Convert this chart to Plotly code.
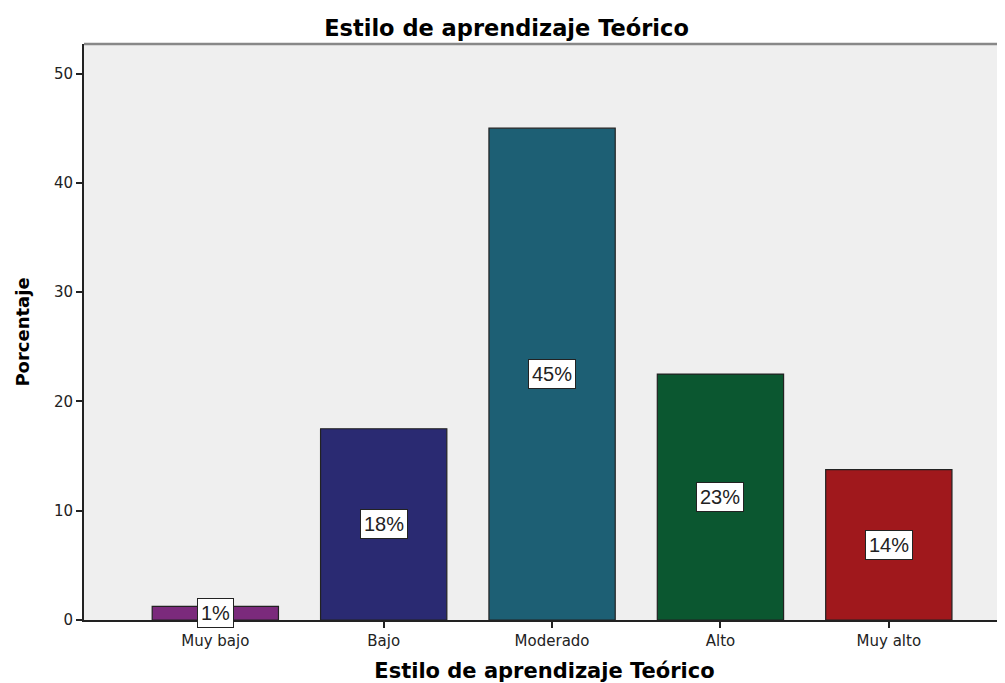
import plotly.graph_objects as go

categories = ["Muy bajo", "Bajo", "Moderado", "Alto", "Muy alto"]
values = [1.25, 17.5, 45.0, 22.5, 13.75]
labels = ["1%", "18%", "45%", "23%", "14%"]
colors = ["#7B2A7C", "#2A2A72", "#1D5F74", "#0B5730", "#A0181C"]

FONT = "DejaVu Sans, Arial"

fig = go.Figure()
fig.add_trace(go.Bar(
    x=categories, y=values,
    marker=dict(color=colors, line=dict(color="#222222", width=1.2)),
    width=0.75,
    hoverinfo="skip",
))

for c, v, t in zip(categories, values, labels):
    fig.add_annotation(
        x=c, y=v / 2, text=t, showarrow=False,
        font=dict(family="Arial, Liberation Sans", size=20, color="#222222"),
        bgcolor="white", bordercolor="#222222", borderwidth=1, borderpad=3,
        xref="x", yref="y",
    )

# page has an 8px body margin: size the figure so the plot lands where the reference has it
fig.update_layout(
    width=997, height=675,
    margin=dict(l=76, r=0, t=36, b=63),
    paper_bgcolor="white",
    plot_bgcolor="#EFEFEF",
    showlegend=False,
    title=dict(
        text="<b>Estilo de aprendizaje Teórico</b>",
        x=0.5, xanchor="center", y=0.970, yanchor="middle",
        font=dict(family=FONT, size=22.5, color="black"),
    ),
    xaxis=dict(
        range=[-0.78, 4.69],
        showgrid=False, zeroline=False,
        showline=True, linecolor="#222222", linewidth=1.5,
        ticks="outside", ticklen=6, tickcolor="#222222", tickwidth=1.5,
        tickfont=dict(family=FONT, size=15, color="#222222"),
        title=dict(text="<b>Estilo de aprendizaje Teórico</b>", standoff=16,
                   font=dict(family=FONT, size=21, color="black")),
    ),
    yaxis=dict(
        range=[0, 52.7],
        tickvals=[0, 10, 20, 30, 40, 50],
        showgrid=False, zeroline=False,
        showline=True, linecolor="#222222", linewidth=2,
        ticks="outside", ticklen=6, tickcolor="#222222", tickwidth=1.5,
        tickfont=dict(family=FONT, size=15, color="#222222"),
        title=dict(text="<b>Porcentaje</b>", standoff=20,
                   font=dict(family=FONT, size=18, color="black")),
    ),
    shapes=[dict(type="line", xref="paper", yref="paper", x0=0, x1=1, y0=1, y1=1,
                 line=dict(color="#888888", width=2.5))],
)

fig.write_html("out.html")
